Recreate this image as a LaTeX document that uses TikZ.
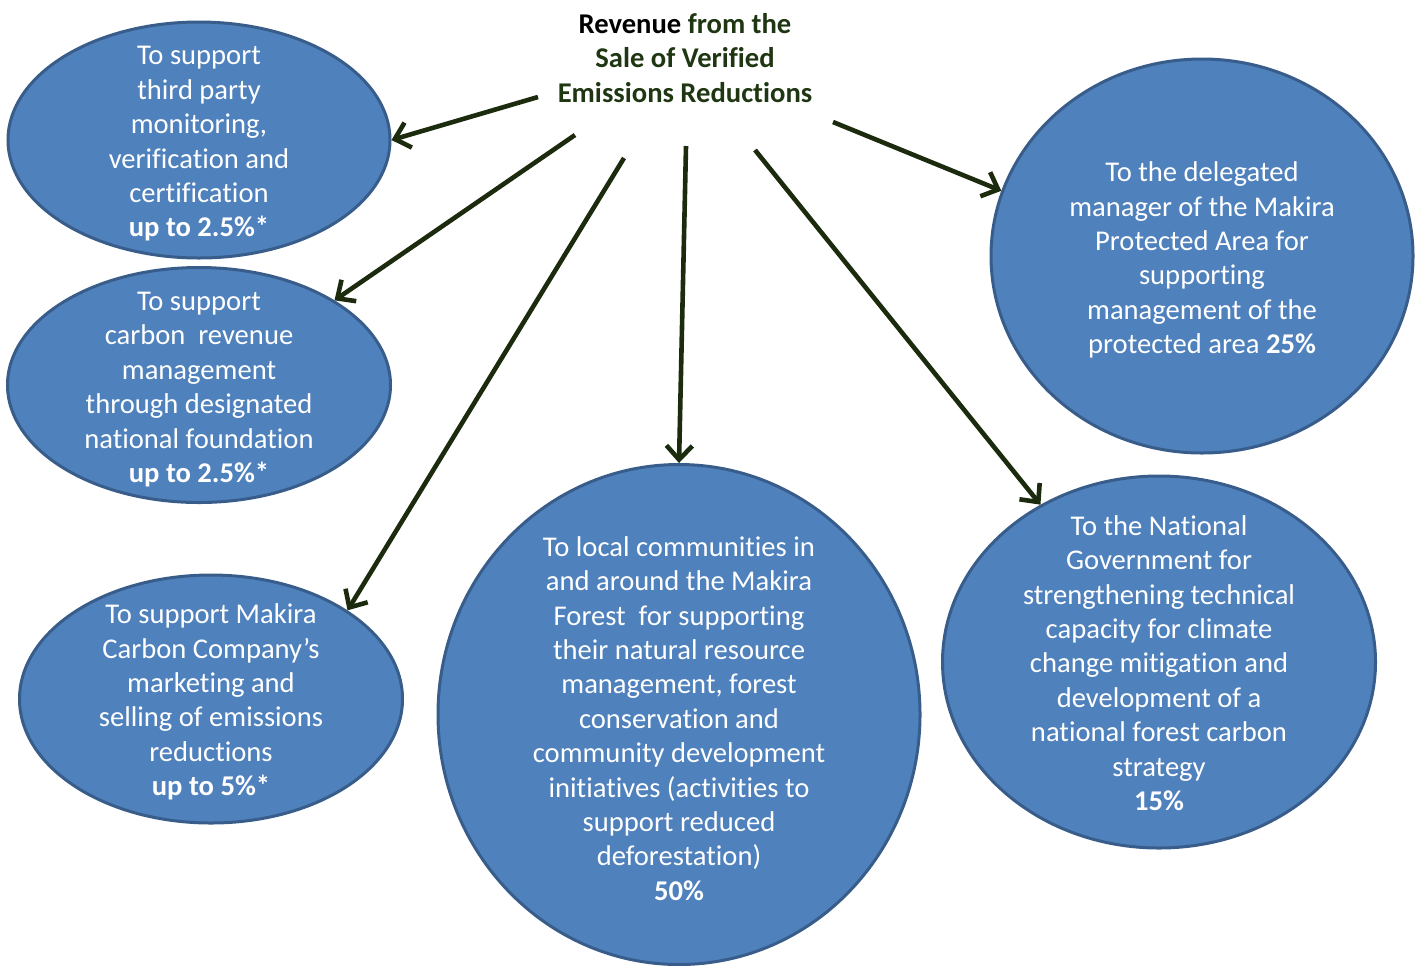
\documentclass[tikz,border=0pt]{standalone}
\usepackage{fontspec}
\setmainfont{Carlito}[Ligatures={NoCommon,NoContextual,NoRequired}]
\usetikzlibrary{arrows.meta,shapes.geometric}
\definecolor{blobfill}{HTML}{4F81BD}
\definecolor{blobedge}{HTML}{385D8A}
\definecolor{arrowcol}{HTML}{1C2A0E}
\definecolor{titlegreen}{HTML}{1F3612}
\tikzset{
  blob/.style={ellipse, draw=blobedge, fill=blobfill, line width=1.5pt, inner sep=0pt},
  txt/.style={text=white, align=center, font=\fontsize{14.3}{17.2}\selectfont},
  flow/.style={draw=arrowcol, line width=2.3pt, -{Straight Barb[length=7pt,width=13pt,line width=2.3pt]}},
}
\begin{document}
\begin{tikzpicture}[x=0.5pt,y=-0.5pt]
\useasboundingbox (0,0) rectangle (1416,965);
% ellipses
\node[blob, minimum width=191pt, minimum height=118pt] (n1) at (199,140) {};
\node[blob, minimum width=191.5pt, minimum height=117.5pt] (n2) at (199,385) {};
\node[blob, minimum width=191.5pt, minimum height=124pt] (n3) at (211,699) {};
\node[blob, minimum width=241pt, minimum height=250pt] (n4) at (679,714.5) {};
\node[blob, minimum width=211pt, minimum height=197pt] (n5) at (1202,256) {};
\node[blob, minimum width=216.5pt, minimum height=186pt] (n6) at (1159,662) {};
% texts
\node[txt] (t1) at ([yshift=-2pt]n1.center) {To support\\third party\\monitoring,\\verification and\\certification\\\textbf{up to 2.5\%*}};
\node[txt] (t2) at ([yshift=-2.3pt]n2.center) {To support\\carbon\ \ revenue\\management\\through designated\\national foundation\\\textbf{up to 2.5\%*}};
\node[txt] (t3) at ([yshift=-1.5pt]n3.center) {To support Makira\\Carbon Company’s\\marketing and\\selling of emissions\\reductions\\\textbf{up to 5\%*}};
\node[txt] (t4) at ([yshift=-2pt]n4.center) {To local communities in\\and around the Makira\\Forest\ \ for supporting\\their natural resource\\management, forest\\conservation and\\community development\\initiatives (activities to\\support reduced\\deforestation)\\\textbf{50\%}};
\node[txt] (t5) at ([yshift=-2pt]n5.center) {To the delegated\\manager of the Makira\\Protected Area for\\supporting\\management of the\\protected area \textbf{25\%}};
\node[txt] (t6) at ([yshift=-0.5pt]n6.center) {To the National\\Government for\\strengthening technical\\capacity for climate\\change mitigation and\\development of a\\national forest carbon\\strategy\\\textbf{15\%}};
% title
\node[align=center, text=titlegreen, font=\fontsize{14.3}{17.2}\selectfont\bfseries] (title) at (685,58) {\textcolor{black}{Revenue} from the\\Sale of Verified\\Emissions Reductions};
% arrow starts
\coordinate (s1) at (538,97);
\coordinate (s2) at (575,135);
\coordinate (s3) at (624,158);
\coordinate (s4) at (686,146);
\coordinate (s5) at (755,150);
\coordinate (s6) at (833,122);
\draw[flow] (s1) -- (n1.0);
\draw[flow] (s2) -- (n2.32);
\draw[flow] (s3) -- (n3.33.6);
\draw[flow] (s4) -- (n4.90);
\draw[flow] (s5) -- (n6.127.8);
\draw[flow] (s6) -- (n5.162.7);
\end{tikzpicture}
\end{document}
